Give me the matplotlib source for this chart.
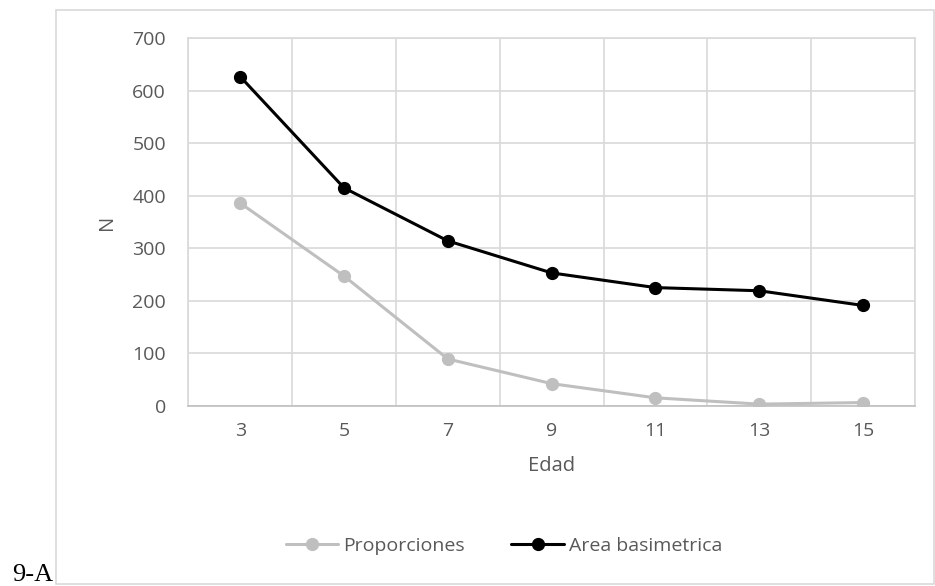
import matplotlib
matplotlib.use("Agg")
import matplotlib.pyplot as plt
from matplotlib.patches import Rectangle
import numpy as np

edad = ["3", "5", "7", "9", "11", "13", "15"]
proporciones = [386, 247, 89, 42, 15, 3, 6]
area_basimetrica = [627, 415, 314, 253, 225, 219, 191]
yticks = [0, 100, 200, 300, 400, 500, 600, 700]

W, H = 935, 586
fig = plt.figure(figsize=(W / 100, H / 100), dpi=100)
plt.rcParams['font.family'] = ['Open Sans', 'DejaVu Sans']

def px(x0, y0, x1, y1):
    return [x0 / W, 1 - y1 / H, (x1 - x0) / W, (y1 - y0) / H]

# outer frame
fig.patches.append(Rectangle((56 / W, 1 - 584 / H), (934 - 56) / W, (584 - 9.5) / H,
                             transform=fig.transFigure, fill=False,
                             edgecolor="#d9d9d9", linewidth=1.2))

ax = fig.add_axes(px(188.3, 38.3, 915, 405.7))
x = np.arange(len(edad))
ax.plot(x, proporciones, color="#bfbfbf", lw=2.2, marker="o", ms=8.5,
        label="Proporciones", zorder=3, solid_capstyle="round")
ax.plot(x, area_basimetrica, color="#000000", lw=2.2, marker="o", ms=8.5,
        label="Area basimetrica", zorder=4, solid_capstyle="round")

ax.set_xlim(-0.5, len(edad) - 0.5)
ax.set_ylim(0, 700)
ax.set_yticks(yticks)
ax.set_yticklabels([str(v) for v in yticks])
ax.set_xticks(x)
ax.set_xticklabels(edad)
ax.set_xticks(np.arange(-0.5, len(edad), 1), minor=True)
ax.grid(False)
ax.grid(True, which="minor", axis="x", color="#d9d9d9", lw=1.2)
ax.grid(True, which="major", axis="y", color="#d9d9d9", lw=1.2)
ax.tick_params(which="both", length=0)
ax.tick_params(axis="y", pad=16, labelsize=14, labelcolor="#595959")
ax.tick_params(axis="x", pad=12, labelsize=14, labelcolor="#595959")
for s in ax.spines.values():
    s.set_color("#d9d9d9")
    s.set_linewidth(1.2)
ax.spines["bottom"].set_color("#bfbfbf")

ax.set_xlabel("Edad", fontsize=14.5, color="#595959", labelpad=11)
ax.set_ylabel("N", fontsize=14.5, color="#595959", labelpad=11)

leg = fig.legend(loc="center", bbox_to_anchor=(504 / W, 1 - 546 / H), ncol=2,
                 frameon=False, fontsize=14, handlelength=2.7, columnspacing=2.4,
                 handletextpad=0.25)
for t in leg.get_texts():
    t.set_color("#595959")

fig.text(12 / W, 1 - 581 / H, "9-A", fontsize=19, family=["Liberation Serif", "DejaVu Serif"],
         color="black", va="baseline", ha="left")

fig.savefig("out.png", dpi=100)
